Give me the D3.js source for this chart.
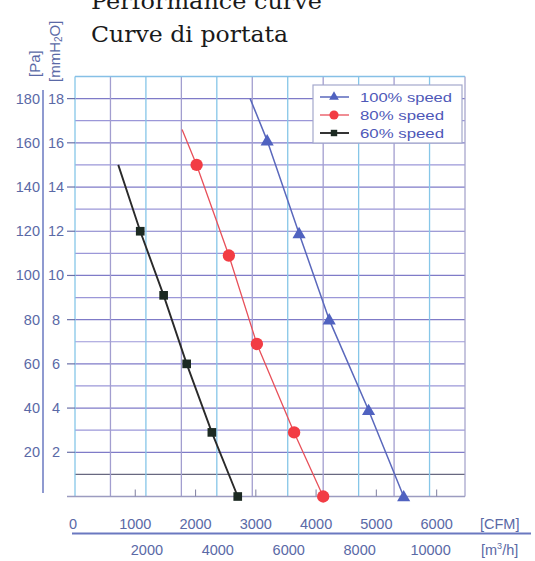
<!DOCTYPE html>
<html>
<head>
<meta charset="utf-8">
<script src="https://cdn.jsdelivr.net/npm/d3@7"></script>
<style>
  html, body { margin: 0; padding: 0; background: #ffffff; }
  svg { display: block; }
</style>
</head>
<body>
<svg id="chart" width="535" height="561"></svg>
<script>
// ---------------- data ----------------
const titleLines = ["Performance curve", "Curve di portata"];
const seriesNames = ["100% speed", "80% speed", "60% speed"];
// flow in m³/h, pressure in Pa (first point of each list is the curve start, drawn without marker)
const speed100Flow = [4940, 5420, 6320, 7170, 8280, 9270];
const speed100Pa   = [180, 161, 119, 80, 39, 0];
const speed80Flow  = [3020, 3430, 4340, 5130, 6180, 7000];
const speed80Pa    = [166, 150, 109, 69, 29, 0];
const speed60Flow  = [1220, 1840, 2500, 3150, 3860, 4590];
const speed60Pa    = [150, 120, 91, 60, 29, 0];
const paTicks   = [20, 40, 60, 80, 100, 120, 140, 160, 180];
const mmTicks   = [2, 4, 6, 8, 10, 12, 14, 16, 18];
const cfmTicks  = [0, 1000, 2000, 3000, 4000, 5000, 6000];
const m3hTicks  = [2000, 4000, 6000, 8000, 10000];
const cfmToM3h = 1.7;

// ---------------- layout ----------------
const svg = d3.select("#chart");
const pL = 75, pR = 465, pT = 76.5, pB = 496.5;
const x = d3.scaleLinear().domain([0, 11000]).range([pL, pR]);
const y = d3.scaleLinear().domain([0, 190]).range([pB, pT]);
const xc = v => x(v * cfmToM3h);
const labelColor = "#5a69a6";
const sans = "'Liberation Sans', Arial, sans-serif";

// title
svg.selectAll("text.title").data(titleLines).join("text")
  .attr("class", "title")
  .attr("x", 91).attr("y", (d, i) => 9 + i * 33)
  .attr("font-family", "'DejaVu Serif', serif")
  .attr("font-size", 21.5)
  .attr("fill", "#1a1a1a")
  .attr("textLength", (d, i) => i === 0 ? 231 : 197)
  .attr("lengthAdjust", "spacingAndGlyphs")
  .text(d => d);

// grid: horizontal lines every 10 Pa
const hGrid = d3.range(10, 190, 10);
svg.append("g").selectAll("line").data(hGrid).join("line")
  .attr("x1", pL).attr("x2", pR)
  .attr("y1", d => y(d)).attr("y2", d => y(d))
  .attr("stroke", d => d === 10 ? "#686880" : (d % 20 === 0 ? "#7f7bc8" : "#9b97d8"))
  .attr("stroke-width", 1.2);

// grid: vertical lines every 1000 m³/h
const vGrid = d3.range(0, 11001, 1000);
svg.append("g").selectAll("line").data(vGrid).join("line")
  .attr("x1", d => x(d)).attr("x2", d => x(d))
  .attr("y1", pT).attr("y2", pB)
  .attr("stroke", (d, i) => i === 11 ? "#a8a6cc" : (i % 2 === 0 ? "#86c6e8" : "#a29ecf"))
  .attr("stroke-width", 1.3);

// top border & bottom border
svg.append("line").attr("x1", pL).attr("x2", pR).attr("y1", pT).attr("y2", pT)
  .attr("stroke", "#86c0e6").attr("stroke-width", 1.3);
svg.append("line").attr("x1", pL - 8).attr("x2", pR).attr("y1", pB).attr("y2", pB)
  .attr("stroke", "#9c9cc0").attr("stroke-width", 1.3);

// y ticks (outside)
svg.append("g").selectAll("line").data(paTicks).join("line")
  .attr("x1", pL - 8).attr("x2", pL)
  .attr("y1", d => y(d)).attr("y2", d => y(d))
  .attr("stroke", "#6a70a8").attr("stroke-width", 1.2);

// small CFM ticks at bottom inside
svg.append("g").selectAll("line").data(cfmTicks.slice(1)).join("line")
  .attr("x1", d => xc(d)).attr("x2", d => xc(d))
  .attr("y1", pB).attr("y2", pB - 7)
  .attr("stroke", "#8a8aa8").attr("stroke-width", 1.1);

// y axis labels
svg.append("g").selectAll("text").data(paTicks).join("text")
  .attr("x", 40).attr("y", d => y(d) + 5)
  .attr("text-anchor", "end")
  .attr("font-family", sans).attr("font-size", 14.5)
  .attr("fill", labelColor).text(d => d);
svg.append("g").selectAll("text").data(mmTicks).join("text")
  .attr("x", 56).attr("y", d => y(d * 10) + 5)
  .attr("text-anchor", "middle")
  .attr("font-family", sans).attr("font-size", 14.5)
  .attr("fill", labelColor).text(d => d);
svg.append("line").attr("x1", 43).attr("x2", 43).attr("y1", 90).attr("y2", 493)
  .attr("stroke", "#6a78c0").attr("stroke-width", 1.5);

// y axis unit titles
svg.append("text")
  .attr("transform", "translate(39.5,77) rotate(-90)")
  .attr("font-family", sans).attr("font-size", 15)
  .attr("fill", labelColor).text("[Pa]");
const mmT = svg.append("text")
  .attr("transform", "translate(60,82) rotate(-90)")
  .attr("font-family", sans).attr("font-size", 15)
  .attr("fill", labelColor);
mmT.append("tspan").text("[mmH");
mmT.append("tspan").attr("font-size", 10).attr("dy", 2).text("2");
mmT.append("tspan").attr("dy", -2).text("O]");

// x axis labels
svg.append("g").selectAll("text").data(cfmTicks).join("text")
  .attr("x", d => xc(d) + (d === 0 ? -2 : 0)).attr("y", 529)
  .attr("text-anchor", "middle")
  .attr("font-family", sans).attr("font-size", 14.5)
  .attr("fill", labelColor).text(d => d);
svg.append("g").selectAll("text").data(m3hTicks).join("text")
  .attr("x", d => x(d) + 1).attr("y", 555)
  .attr("text-anchor", "middle")
  .attr("font-family", sans).attr("font-size", 14.5)
  .attr("fill", labelColor).text(d => d);
svg.append("line").attr("x1", 72).attr("x2", 531).attr("y1", 533.5).attr("y2", 533.5)
  .attr("stroke", "#6a78c0").attr("stroke-width", 2);
svg.append("text").attr("x", 480).attr("y", 529)
  .attr("font-family", sans).attr("font-size", 14.5)
  .attr("fill", labelColor).text("[CFM]");
const m3 = svg.append("text").attr("x", 481).attr("y", 555)
  .attr("font-family", sans).attr("font-size", 14.5)
  .attr("fill", labelColor);
m3.append("tspan").text("[m");
m3.append("tspan").attr("font-size", 9).attr("dy", -6).text("3");
m3.append("tspan").attr("dy", 6).text("/h]");

// ---------------- series ----------------
const series = [
  { name: seriesNames[0], flow: speed100Flow, pa: speed100Pa, color: "#5062c0", lineColor: "#5a68bc", width: 1.5, shape: d3.symbolTriangle, size: 75 },
  { name: seriesNames[1], flow: speed80Flow,  pa: speed80Pa,  color: "#f23c44", lineColor: "#e8505a", width: 1.3, shape: d3.symbolCircle,   size: 120 },
  { name: seriesNames[2], flow: speed60Flow,  pa: speed60Pa,  color: "#1c2a22", lineColor: "#2a2a2a", width: 1.9, shape: d3.symbolSquare,   size: 75 }
];
const line = d3.line().x(d => x(d[0])).y(d => y(d[1]));
series.forEach(s => {
  const pts = s.flow.map((f, i) => [f, s.pa[i]]);
  svg.append("path").datum(pts)
    .attr("d", line).attr("fill", "none")
    .attr("stroke", s.lineColor).attr("stroke-width", s.width);
  svg.append("g").selectAll("path").data(pts.slice(1)).join("path")
    .attr("transform", d => `translate(${x(d[0])},${y(d[1]) + (s.shape === d3.symbolTriangle ? 1 : 0)})`)
    .attr("d", d3.symbol().type(s.shape).size(s.size))
    .attr("fill", s.color);
});

// ---------------- legend ----------------
const lg = svg.append("g");
lg.append("rect").attr("x", 313).attr("y", 85).attr("width", 149).attr("height", 58)
  .attr("fill", "#ffffff").attr("stroke", "#a4a8cc").attr("stroke-width", 1.2);
series.forEach((s, i) => {
  const cy = 97 + i * 18;
  lg.append("line").attr("x1", 320).attr("x2", 349).attr("y1", cy).attr("y2", cy)
    .attr("stroke", s.lineColor).attr("stroke-width", s.width);
  lg.append("path").attr("transform", `translate(334,${cy})`)
    .attr("d", d3.symbol().type(s.shape).size(s.size * 0.55))
    .attr("fill", s.color);
  lg.append("text").attr("x", 360).attr("y", cy + 4.5)
    .attr("font-family", sans).attr("font-size", 13)
    .attr("fill", "#4e58b8").attr("textLength", i === 0 ? 92 : 84)
    .attr("lengthAdjust", "spacingAndGlyphs")
    .text(s.name);
});
</script>
</body>
</html>
